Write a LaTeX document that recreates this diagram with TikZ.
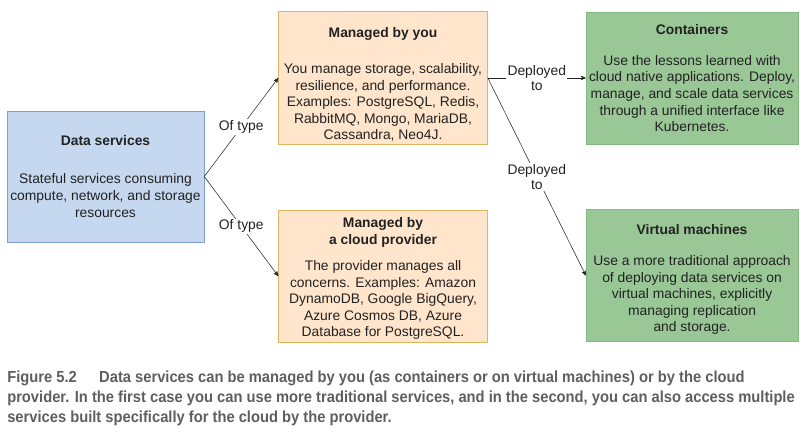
\documentclass[tikz,border=0pt]{standalone}
\usepackage{fontspec}
\setmainfont{Liberation Sans}
\newfontfamily\capfont[FakeStretch=0.92]{Liberation Sans}
\usepackage{xcolor}
\usetikzlibrary{arrows}
\usetikzlibrary{positioning}

\definecolor{dsfill}{HTML}{C5D8EF}
\definecolor{dsline}{HTML}{7E9FD0}
\definecolor{youfill}{HTML}{FFE5CB}
\definecolor{youline}{HTML}{E3B45E}
\definecolor{runfill}{HTML}{9AC796}
\definecolor{runline}{HTML}{86B97F}
\definecolor{inktext}{HTML}{222222}
\definecolor{captext}{HTML}{5E5E5E}

\begin{document}
\begin{tikzpicture}[x=0.75pt,y=-0.75pt,->,>=stealth',
                    box/.style={rectangle,draw,align=center,text=inktext,inner sep=2pt,
                                font=\fontsize{10.4}{12.45}\selectfont,minimum height=99pt},
                    data box/.style={box,fill=dsfill,draw=dsline,minimum width=147.75pt,minimum height=98.25pt},
                    you box/.style={box,fill=youfill,draw=youline,minimum width=156.75pt},
                    run box/.style={box,fill=runfill,draw=runline,minimum width=159pt},
                    link label/.style={fill=white,inner sep=1pt,align=center,text=inktext,
                                       font=\fontsize{10.4}{11.5}\selectfont}]

      \useasboundingbox (0,0) rectangle (810,438);

      \node[data box] (data) at (105.5,176.5) {\textbf{Data services}\\[16pt]
        Stateful services consuming\\compute, network, and storage\\resources};
      \node[you box] (you) [right=55.5pt of data, yshift=73.9pt] {\rule{0pt}{17.5pt}\textbf{Managed by you}\\[14.5pt]
        You manage storage, scalability,\\resilience, and performance.\\Examples: PostgreSQL, Redis,\\RabbitMQ, Mongo, MariaDB,\\Cassandra, Neo4J.};
      \node[you box] (cloud) [below=48.75pt of you] {\rule{0pt}{11.5pt}\textbf{Managed by}\\\textbf{a cloud provider}\\[7pt]
        The provider manages all\\concerns. Examples: Amazon\\DynamoDB, Google BigQuery,\\Azure Cosmos DB, Azure\\Database for PostgreSQL.};
      \node[run box] (cont) [right=73.5pt of you] {\textbf{Containers}\\[11pt]
        Use the lessons learned with\\cloud native applications. Deploy,\\manage, and scale data services\\through a unified interface like\\Kubernetes.};
      \node[run box] (vm) [below=48.75pt of cont] {\rule{0pt}{13.5pt}\textbf{Virtual machines}\\[11pt]
        Use a more traditional approach\\of deploying data services on\\virtual machines, explicitly\\managing replication\\and storage.};

      \path[every edge/.append style={draw=inktext},every node/.style={link label}]
        (data.east) edge node {Of type} (you.west)
        (data.east) edge node {Of type} (cloud.west)
        (you.east) edge node {Deployed\\to} (cont.west)
        (you.east) edge node {Deployed\\to} (vm.west);

      \node[anchor=north west,align=left,text=captext,inner sep=0pt,
            font=\capfont\bfseries\fontsize{12}{15}\selectfont] (caption) at (7,371)
        {Figure 5.2\hspace{1.4em}Data services can be managed by you (as containers or on virtual machines) or by the cloud\\
         provider. In the first case you can use more traditional services, and in the second, you can also access multiple\\
         services built specifically for the cloud by the provider.};

    \end{tikzpicture}
\end{document}
